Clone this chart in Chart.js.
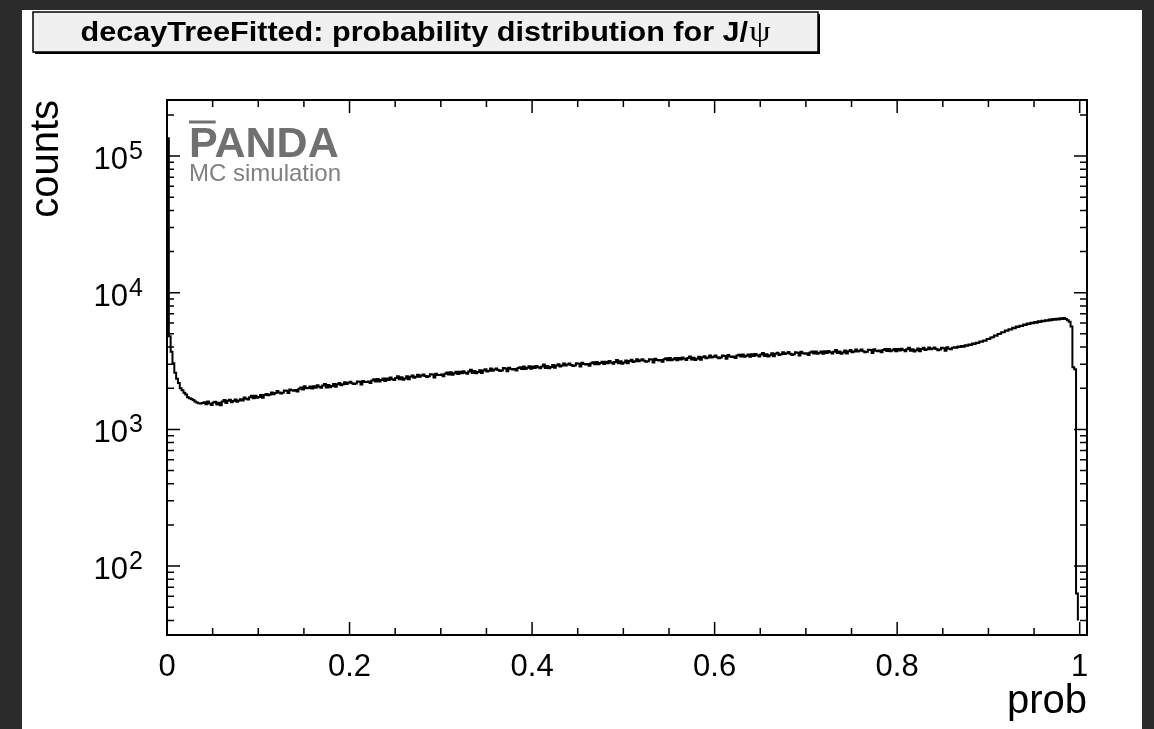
<!DOCTYPE html>
<html>
<head>
<meta charset="utf-8">
<title>decayTreeFitted: probability distribution for J/ψ</title>
<script src="https://cdn.jsdelivr.net/npm/chart.js@4.4.0/dist/chart.umd.min.js"></script>
<style>
  body { margin: 0; background: #2b2b2b; width: 1154px; height: 729px; overflow: hidden; }
  #pad { position: absolute; left: 22px; top: 10px; width: 1120px; height: 719px; background: #fff; }
</style>
</head>
<body>
<div id="pad"><canvas id="probChart"></canvas></div>
<script>
// histogram: 0.002 wide bins starting at prob = 0 (10 bins per row)
var binWidth = 0.002;
var counts = [
  135000, 4800, 3700, 3050, 2600, 2350, 2180, 2000, 1930, 1850,
  1800, 1720, 1690, 1670, 1640, 1600, 1575, 1555, 1545, 1560,
  1580, 1530, 1600, 1545, 1510, 1570, 1595, 1520, 1565, 1500,
  1600, 1640, 1560, 1620, 1650, 1580, 1610, 1655, 1590, 1630,
  1663, 1628, 1708, 1672, 1652, 1717, 1765, 1693, 1759, 1703,
  1723, 1785, 1707, 1788, 1816, 1774, 1800, 1864, 1811, 1848,
  1906, 1860, 1832, 1851, 1925, 1914, 1843, 1954, 1930, 1921,
  1940, 1891, 1980, 2029, 1960, 2070, 1999, 2010, 2060, 1989,
  2071, 2018, 2107, 2051, 2018, 2090, 2145, 2029, 2110, 2037,
  2079, 2150, 2053, 2142, 2183, 2106, 2142, 2215, 2146, 2192,
  2235, 2178, 2144, 2170, 2245, 2233, 2129, 2263, 2226, 2218,
  2240, 2180, 2278, 2325, 2240, 2340, 2244, 2295, 2356, 2264,
  2356, 2295, 2396, 2331, 2293, 2373, 2446, 2323, 2402, 2309,
  2356, 2443, 2330, 2425, 2476, 2390, 2422, 2513, 2424, 2474,
  2524, 2458, 2419, 2448, 2534, 2524, 2399, 2555, 2504, 2495,
  2520, 2452, 2553, 2608, 2520, 2622, 2512, 2574, 2636, 2538,
  2642, 2571, 2660, 2601, 2558, 2647, 2728, 2582, 2671, 2570,
  2624, 2710, 2583, 2697, 2750, 2656, 2690, 2791, 2689, 2737,
  2791, 2717, 2669, 2700, 2812, 2791, 2665, 2822, 2763, 2742,
  2770, 2693, 2811, 2852, 2770, 2880, 2762, 2820, 2900, 2773,
  2887, 2808, 2913, 2848, 2795, 2887, 2978, 2818, 2908, 2803,
  2861, 2955, 2822, 2935, 2997, 2885, 2930, 3030, 2929, 2980,
  3039, 2957, 2904, 2937, 3045, 3025, 2885, 3071, 3004, 2980,
  3010, 2926, 3053, 3098, 3002, 3115, 2998, 3055, 3121, 3009,
  3131, 3050, 3160, 3086, 3021, 3118, 3214, 3051, 3147, 3027,
  3089, 3193, 3045, 3168, 3228, 3116, 3153, 3264, 3155, 3202,
  3265, 3176, 3120, 3154, 3264, 3242, 3091, 3292, 3214, 3188,
  3220, 3129, 3263, 3313, 3209, 3325, 3200, 3259, 3325, 3204,
  3335, 3249, 3362, 3287, 3222, 3325, 3418, 3249, 3347, 3220,
  3287, 3397, 3238, 3368, 3432, 3312, 3350, 3467, 3352, 3404,
  3471, 3376, 3314, 3350, 3468, 3443, 3282, 3497, 3414, 3386,
  3420, 3323, 3465, 3518, 3407, 3530, 3396, 3459, 3527, 3401,
  3539, 3448, 3566, 3487, 3419, 3526, 3624, 3444, 3547, 3414,
  3485, 3600, 3431, 3569, 3636, 3508, 3547, 3667, 3554, 3606,
  3677, 3574, 3506, 3543, 3666, 3641, 3471, 3697, 3606, 3574,
  3610, 3506, 3654, 3709, 3591, 3719, 3576, 3641, 3712, 3579,
  3723, 3618, 3742, 3661, 3587, 3700, 3803, 3616, 3720, 3582,
  3653, 3772, 3594, 3737, 3804, 3666, 3714, 3833, 3721, 3767,
  3842, 3734, 3664, 3703, 3832, 3807, 3626, 3865, 3766, 3733,
  3770, 3660, 3814, 3867, 3745, 3879, 3729, 3791, 3872, 3724,
  3876, 3769, 3896, 3812, 3732, 3854, 3956, 3763, 3865, 3715,
  3792, 3913, 3722, 3878, 3954, 3812, 3850, 3976, 3856, 3899,
  3976, 3866, 3788, 3835, 3956, 3929, 3768, 3987, 3883, 3861,
  3960, 3990, 3950, 4040, 4000, 4080, 4030, 4130, 4090, 4180,
  4150, 4250, 4210, 4300, 4290, 4390, 4370, 4470, 4460, 4580,
  4580, 4710, 4720, 4860, 4850, 4990, 5000, 5130, 5140, 5280,
  5270, 5410, 5390, 5530, 5500, 5650, 5610, 5740, 5710, 5850,
  5800, 5940, 5890, 6020, 5970, 6100, 6040, 6170, 6110, 6240,
  6170, 6300, 6230, 6360, 6290, 6420, 6340, 6460, 6370, 6490,
  6410, 6520, 6430, 6300, 6130, 5650, 2850, 2750, 63, 40,
  0, 0, 0, 0
];
var xTickValues = [0, 0.2, 0.4, 0.6, 0.8, 1];
var xTickLabels = ['0', '0.2', '0.4', '0.6', '0.8', '1'];
var xMinorStep = 0.05;
var yDecades = [2, 3, 4, 5];
var titleText = 'decayTreeFitted: probability distribution for J/';
var titleGreek = '\u03c8';

var points = counts.map(function (c, i) {
    return { x: i * binWidth, y: c };
});
points.push({ x: counts.length * binWidth, y: 0 });

var SANS = '"Liberation Sans", Arial, Helvetica, sans-serif';

var rootStyle = {
    id: 'rootStyle',
    afterDatasetsDraw: function (chart) {
        var c = chart.ctx, a = chart.chartArea;
        var xs = chart.scales.x, ys = chart.scales.y;
        c.save();
        c.strokeStyle = '#000';
        c.fillStyle = '#000';

        // ticks on all four sides, pointing inward
        c.lineWidth = 1.5;
        c.beginPath();
        for (var k = 0; k * xMinorStep <= 1.0001; k++) {
            var px = xs.getPixelForValue(k * xMinorStep);
            var len = (k % 4 === 0) ? 13 : 7;
            c.moveTo(px, a.bottom); c.lineTo(px, a.bottom - len);
            c.moveTo(px, a.top); c.lineTo(px, a.top + len);
        }
        for (var d = 1; d <= 5; d++) {
            for (var m = 1; m <= 9; m++) {
                var v = m * Math.pow(10, d);
                if (v < ys.min || v > ys.max) continue;
                var py = ys.getPixelForValue(v);
                var l2 = (m === 1) ? 13 : 7;
                c.moveTo(a.left, py); c.lineTo(a.left + l2, py);
                c.moveTo(a.right, py); c.lineTo(a.right - l2, py);
            }
        }
        c.stroke();

        // frame
        c.lineWidth = 2;
        c.strokeRect(a.left, a.top, a.right - a.left, a.bottom - a.top);

        // x tick labels
        c.font = '31px ' + SANS;
        c.textAlign = 'center';
        c.textBaseline = 'alphabetic';
        xTickValues.forEach(function (v, i) {
            c.fillText(xTickLabels[i], xs.getPixelForValue(v), a.bottom + 41);
        });

        // y tick labels 10^n
        yDecades.forEach(function (n) {
            var py = ys.getPixelForValue(Math.pow(10, n));
            c.font = '31px ' + SANS;
            c.textAlign = 'right';
            c.fillText('10', a.left - 39, py + 13);
            c.font = '25px ' + SANS;
            c.textAlign = 'left';
            c.fillText(String(n), a.left - 38, py + 3);
        });

        // axis titles
        c.font = '40px ' + SANS;
        c.textAlign = 'right';
        c.fillText('prob', a.right, a.bottom + 78);
        c.save();
        c.translate(36, a.top);
        c.rotate(-Math.PI / 2);
        c.fillText('counts', 0, 0);
        c.restore();

        // PANDA label
        c.fillStyle = '#707070';
        c.strokeStyle = '#707070';
        c.font = 'bold 43px ' + SANS;
        c.textAlign = 'left';
        c.fillText('PANDA', a.left + 22, a.top + 57);
        var pw = c.measureText('P').width;
        c.lineWidth = 3;
        c.beginPath();
        c.moveTo(a.left + 22, a.top + 22);
        c.lineTo(a.left + 20 + pw, a.top + 22);
        c.stroke();
        c.fillStyle = '#808080';
        c.font = '24px ' + SANS;
        c.fillText('MC simulation', a.left + 22, a.top + 81);

        // title box with shadow
        var bx = 11, by = 2, bw = 785, bh = 40;
        c.fillStyle = '#000';
        c.fillRect(bx + 2, by + 2, bw, bh);
        c.fillStyle = '#f0f0f0';
        c.fillRect(bx, by, bw, bh);
        c.strokeStyle = '#000';
        c.lineWidth = 1.5;
        c.strokeRect(bx, by, bw, bh);
        c.fillStyle = '#000';
        c.font = 'bold 27px ' + SANS;
        var w1 = c.measureText(titleText).width;
        c.font = '30px "Liberation Serif", serif';
        var w2 = c.measureText(titleGreek).width;
        var sx = 690 / (w1 + w2 + 1);
        c.save();
        c.translate(bx + bw / 2 - 345, by + 29);
        c.scale(sx, 1);
        c.textAlign = 'left';
        c.font = 'bold 27px ' + SANS;
        c.fillText(titleText, 0, 0);
        c.font = '30px "Liberation Serif", serif';
        c.fillText(titleGreek, w1 + 1, 0);
        c.restore();
        c.restore();
    }
};

new Chart(document.getElementById('probChart').getContext('2d'), {
    type: 'line',
    data: {
        datasets: [{
            label: 'prob',
            data: points,
            stepped: 'before',
            borderColor: '#000',
            borderWidth: 2,
            pointRadius: 0,
            fill: false
        }]
    },
    options: {
        responsive: true,
        maintainAspectRatio: false,
        animation: false,
        layout: { padding: { left: 145, top: 90, right: 55, bottom: 94 } },
        plugins: {
            legend: { display: false },
            tooltip: { enabled: false }
        },
        scales: {
            x: { type: 'linear', min: 0, max: 1.008, display: false },
            y: { type: 'logarithmic', min: 31.3, max: 257000, display: false }
        }
    },
    plugins: [rootStyle]
});
</script>
</body>
</html>
